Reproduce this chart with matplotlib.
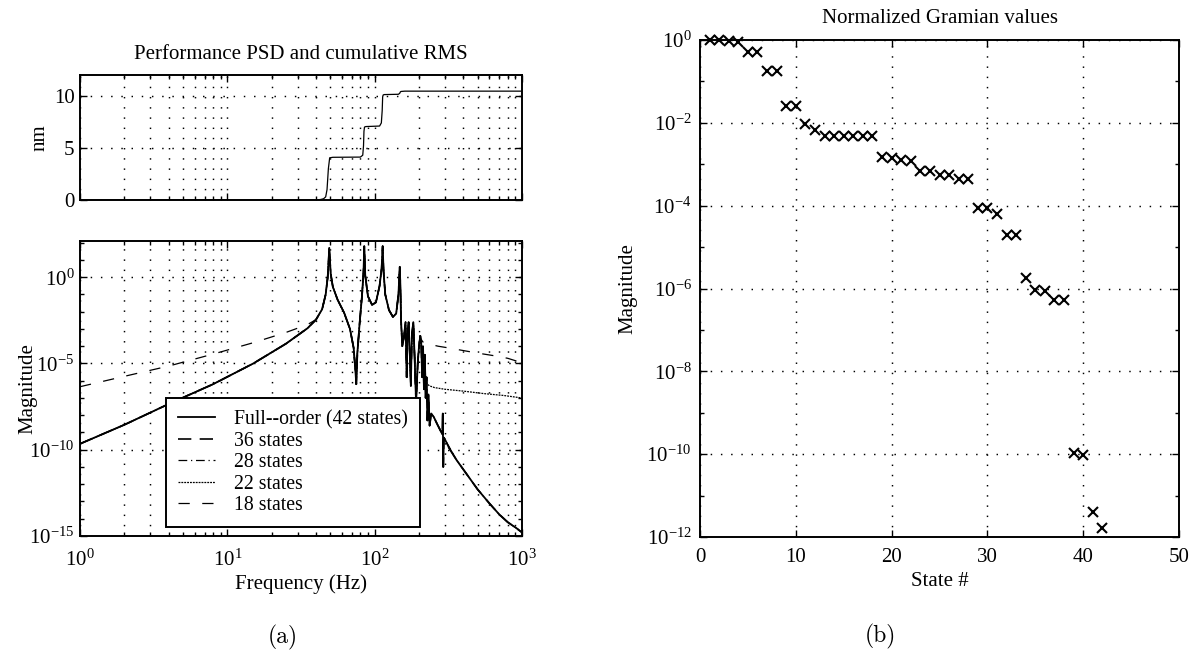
import matplotlib
matplotlib.use("Agg")
import matplotlib.pyplot as plt
from matplotlib.ticker import FixedLocator, NullFormatter, LogFormatterMathtext

plt.rcParams['font.family'] = ['Liberation Serif', 'DejaVu Serif']
plt.rcParams['mathtext.fontset'] = 'custom'
plt.rcParams['mathtext.rm'] = 'Liberation Serif'
plt.rcParams['mathtext.it'] = 'Liberation Serif:italic'
plt.rcParams['mathtext.default'] = 'regular'

# ---------------- data ----------------
# cumulative RMS of the performance output (nm) vs frequency (Hz)
rms_freq = [1, 40, 43, 45, 46.5, 47.5, 48.5, 49.5, 52, 80, 83, 84, 84.6, 85.3, 87, 108,
            111, 112.5, 113.3, 114.2, 116, 145, 148, 149.5, 151, 160, 1000]
rms_nm = [0, 0, 0.05, 0.12, 0.3, 1.0, 3.0, 4.05, 4.1, 4.12, 4.3, 5.2, 6.6, 7.0, 7.05, 7.1,
          7.4, 8.6, 9.9, 10.08, 10.12, 10.15, 10.25, 10.38, 10.42, 10.45, 10.45]

# PSD magnitude, low-frequency part of the full model (1 - 40 Hz)
full_low_freq = [1, 2, 4, 8, 15, 25, 35]
full_low_mag = [2.2e-10, 2.8e-9, 4.5e-8, 6.3e-7, 1.0e-5, 1.4e-4, 1.1e-3]

# PSD magnitude shared by every model through the main resonances (40 - 204 Hz)
mid_freq = [40, 44, 46.5, 48, 49.2, 50.3, 52, 56, 62, 68, 72, 74, 75, 76.3, 79, 82, 84, 85,
            86.3, 90, 96, 102, 108, 111.5, 113.3, 115, 118, 125, 133, 140, 145, 148, 149.5,
            151, 154, 158, 162, 165, 167, 170, 173, 176, 179, 183, 187, 191, 196, 200, 204]
mid_mag = [3.5e-3, 1.4e-2, 0.1, 1.0, 50, 1.6, 0.28, 5.0e-2, 8.9e-3, 1.0e-3, 7.9e-5, 4.0e-6,
           6.3e-7, 4.0e-5, 2.0e-3, 7.9e-2, 2.0, 63, 1.26, 7.9e-2, 2.5e-2, 3.5e-2, 0.32, 3.2,
           63, 2.0, 0.1, 1.26e-2, 5.0e-3, 7.9e-3, 0.1, 4.0, 0.32, 3.2e-3, 1.0e-4, 3.2e-4,
           2.5e-3, 1.6e-6, 3.2e-4, 2.5e-3, 5.0e-5, 5.0e-7, 5.0e-4, 2.5e-3, 1.6e-5, 5.0e-8,
           1.0e-5, 1.0e-4, 4.0e-4]

# high-frequency part of the full model (204 - 1000 Hz)
full_high_freq = [204, 207, 210, 213, 216, 219, 222, 225, 228, 232, 236, 242, 252, 265, 280,
                  288, 290, 292, 295, 300, 320, 360, 420, 500, 600, 700, 800, 900, 1000]
full_high_mag = [4.0e-4, 1.6e-4, 1.6e-6, 1.0e-4, 3.2e-7, 3.2e-5, 1.0e-7, 1.6e-6, 5.0e-9,
                 1.6e-7, 2.5e-9, 1.26e-8, 7.9e-9, 3.2e-9, 1.26e-9, 7.9e-10, 1.26e-8, 1.0e-11,
                 5.0e-10, 4.0e-10, 1.26e-10, 2.5e-11, 4.0e-12, 5.0e-13, 7.9e-14, 1.8e-14,
                 6.3e-15, 3.2e-15, 1.6e-15]

# 28-state model: splits slightly from the full model at the top of the band
r28_high_freq = [204, 207, 210, 213, 216, 219, 222, 225, 228, 232, 236, 242, 252, 265, 280,
                 300, 360, 420, 500, 600, 700, 780, 860, 940, 1000]
r28_high_mag = [4.0e-4, 1.6e-4, 1.6e-6, 1.0e-4, 3.2e-7, 3.2e-5, 1.0e-7, 1.6e-6, 5.0e-9,
                1.6e-7, 2.5e-9, 1.26e-8, 7.9e-9, 3.2e-9, 1.26e-9, 4.0e-10, 2.5e-11, 4.0e-12,
                5.0e-13, 7.9e-14, 1.8e-14, 7.9e-15, 4.0e-15, 2.5e-15, 2.0e-15]

# 22-state model: levels off above 240 Hz
r22_high_freq = [204, 207, 210, 214, 220, 228, 236, 245, 255, 300, 400, 550, 750, 1000]
r22_high_mag = [4.0e-4, 1.6e-4, 3.2e-5, 3.2e-6, 1.0e-6, 6.3e-7, 5.0e-7, 4.5e-7, 4.0e-7,
                3.2e-7, 2.5e-7, 1.8e-7, 1.4e-7, 1.0e-7]

# 18-state model: departs at both ends of the band
r18_low_freq = [1, 2, 4, 8, 15, 25, 35]
r18_low_mag = [4.5e-7, 1.8e-6, 7.1e-6, 3.5e-5, 1.6e-4, 6.3e-4, 1.8e-3]
r18_high_freq = [204, 207, 212, 220, 240, 270, 320, 400, 500, 650, 800, 1000]
r18_high_mag = [4.0e-4, 2.5e-4, 1.8e-4, 1.5e-4, 1.26e-4, 1.0e-4, 7.9e-5, 5.6e-5, 4.0e-5,
                2.8e-5, 2.0e-5, 1.1e-5]

psd_labels = ['Full--order (42 states)', '36 states', '28 states', '22 states', '18 states']

# normalized Gramian (Hankel singular) values per state
state_idx = list(range(1, 43))
gramian = [1.0, 0.98, 0.95, 0.9, 0.52, 0.5, 0.18, 0.175, 0.026, 0.025, 0.0095, 0.0068,
           0.0049, 0.0048, 0.0048, 0.0048, 0.0048, 0.0048, 1.5e-3, 1.4e-3, 1.25e-3, 1.2e-3,
           7.0e-4, 6.8e-4, 5.6e-4, 5.4e-4, 4.5e-4, 4.4e-4, 9.0e-5, 8.8e-5, 6.2e-5, 2.0e-5,
           1.95e-5, 1.8e-6, 9.0e-7, 8.8e-7, 5.4e-7, 5.2e-7, 1.07e-10, 9.5e-11, 4.1e-12,
           1.66e-12]

# ---------------- figure ----------------
W, H = 1192, 660
fig = plt.figure(figsize=(W / 100, H / 100), dpi=100)


def box(x0, y0, x1, y1):
    return [x0 / W, 1 - y1 / H, (x1 - x0) / W, (y1 - y0) / H]


FS = 15
DOT = (0, (1, 6))
GRID_LW = 1.05


def style_axes(ax, ypad=4, xpad=6):
    for s in ax.spines.values():
        s.set_linewidth(1.4)
    ax.tick_params(which='both', direction='in', top=True, right=True, labelsize=FS,
                   width=1.0)
    ax.tick_params(which='major', length=5)
    ax.tick_params(which='minor', length=3)
    ax.tick_params(axis='y', pad=ypad)
    ax.tick_params(axis='x', pad=xpad)


# top: cumulative RMS
ax1 = fig.add_axes(box(80, 75, 522, 200))
ax1.plot(rms_freq, rms_nm, color='k', lw=0.9)
ax1.set_xscale('log')
ax1.set_xlim(1, 1000)
ax1.set_ylim(0, 12)
ax1.set_yticks([0, 5, 10])
ax1.xaxis.set_major_formatter(NullFormatter())
ax1.xaxis.set_minor_formatter(NullFormatter())
ax1.grid(True, which='both', axis='x', color='k', ls=DOT, lw=GRID_LW)
ax1.grid(True, which='major', axis='y', color='k', ls=DOT, lw=GRID_LW)
style_axes(ax1)
ax1.set_ylabel('nm', fontsize=FS)
ax1.yaxis.set_label_coords(-0.07, 0.5)
ax1.text(0.5, 1.16, 'Performance PSD and cumulative RMS', transform=ax1.transAxes,
         ha='center', va='center', fontsize=FS)

# bottom: PSD magnitude
ax2 = fig.add_axes(box(80, 241, 522, 536))
full_f = full_low_freq + mid_freq + full_high_freq[1:]
full_m = full_low_mag + mid_mag + full_high_mag[1:]
r28_f = full_low_freq + mid_freq + r28_high_freq[1:]
r28_m = full_low_mag + mid_mag + r28_high_mag[1:]
r22_f = full_low_freq + mid_freq + r22_high_freq[1:]
r22_m = full_low_mag + mid_mag + r22_high_mag[1:]
r18_f = r18_low_freq + mid_freq + r18_high_freq[1:]
r18_m = r18_low_mag + mid_mag + r18_high_mag[1:]

h18, = ax2.plot(r18_f, r18_m, color='k', lw=0.9, ls=(0, (9, 10)))
h22, = ax2.plot(r22_f, r22_m, color='k', lw=0.9, ls=(0, (1.5, 0.8)))
h28, = ax2.plot(r28_f, r28_m, color='k', lw=0.9, ls=(0, (7, 3, 1, 3)))
h36, = ax2.plot(full_f, full_m, color='k', lw=1.2, ls=(0, (8, 5)))
hfull, = ax2.plot(full_f, full_m, color='k', lw=1.3, ls='-')
ax2.set_xscale('log')
ax2.set_yscale('log')
ax2.set_xlim(1, 1000)
ax2.set_ylim(1e-15, 10 ** 2.1)
ax2.yaxis.set_major_locator(FixedLocator([1e-15, 1e-10, 1e-5, 1e0]))
ax2.yaxis.set_minor_locator(FixedLocator([10.0 ** k for k in range(-15, 3)]))
ax2.yaxis.set_major_formatter(LogFormatterMathtext())
ax2.yaxis.set_minor_formatter(NullFormatter())
ax2.xaxis.set_minor_formatter(NullFormatter())
ax2.grid(True, which='both', axis='x', color='k', ls=DOT, lw=GRID_LW)
ax2.grid(True, which='major', axis='y', color='k', ls=DOT, lw=GRID_LW)
style_axes(ax2, xpad=9.5)
ax2.set_ylabel('Magnitude', fontsize=FS)
ax2.yaxis.set_label_coords(-0.096, 0.5)
ax2.set_xlabel('Frequency (Hz)', fontsize=FS)
ax2.xaxis.set_label_coords(0.5, -0.129)
leg = ax2.legend([hfull, h36, h28, h22, h18], psd_labels, loc='lower left',
                 bbox_to_anchor=(0.195, 0.03), borderaxespad=0, fontsize=14.2,
                 frameon=True, fancybox=False, framealpha=1, edgecolor='k',
                 handlelength=1.86, handletextpad=1.0, labelspacing=0.13,
                 borderpad=0.6)
leg.get_frame().set_linewidth(1.4)

ax2.text(0.459, -0.345, '(a)', transform=ax2.transAxes, ha='center', va='center',
         fontsize=17, family='cmr10')

# right: normalized Gramian values
ax3 = fig.add_axes(box(700, 40, 1179, 537))
ax3.plot(state_idx, gramian, ls='none', marker='x', ms=7.5, mew=1.5, color='k',
         clip_on=False)
ax3.set_yscale('log')
ax3.set_xlim(0, 50)
ax3.set_ylim(1e-12, 1)
ax3.set_xticks(range(0, 51, 10))
ax3.yaxis.set_major_locator(FixedLocator([10.0 ** k for k in range(-12, 1, 2)]))
ax3.yaxis.set_minor_locator(FixedLocator([10.0 ** k for k in range(-11, 0, 2)]))
ax3.yaxis.set_major_formatter(LogFormatterMathtext())
ax3.yaxis.set_minor_formatter(NullFormatter())
ax3.grid(True, which='major', color='k', ls=DOT, lw=GRID_LW)
style_axes(ax3, ypad=6, xpad=8)
ax3.set_ylabel('Magnitude', fontsize=FS)
ax3.yaxis.set_label_coords(-0.13, 0.5)
ax3.set_xlabel('State #', fontsize=FS)
ax3.xaxis.set_label_coords(0.5, -0.07)
ax3.text(0.5, 1.044, 'Normalized Gramian values', transform=ax3.transAxes,
         ha='center', va='center', fontsize=FS)
ax3.text(0.376, -0.2, '(b)', transform=ax3.transAxes, ha='center', va='center',
         fontsize=17, family='cmr10')

fig.savefig('out.png', dpi=100)
